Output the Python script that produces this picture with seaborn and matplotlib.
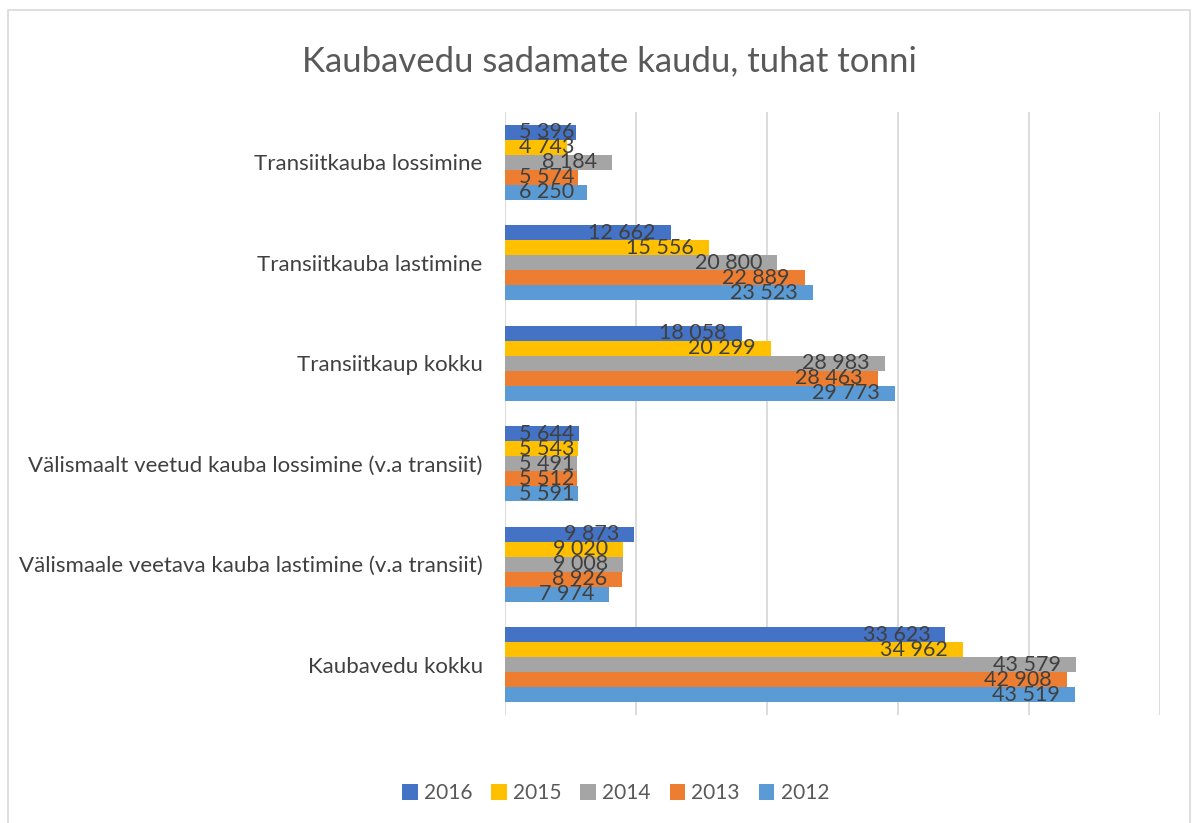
import pandas as pd
import matplotlib.pyplot as plt
import seaborn as sns
from matplotlib.patches import Rectangle

# andmed
categories = [
    "Transiitkauba lossimine",
    "Transiitkauba lastimine",
    "Transiitkaup kokku",
    "Välismaalt veetud kauba lossimine (v.a transiit)",
    "Välismaale veetava kauba lastimine (v.a transiit)",
    "Kaubavedu kokku",
]
years = ["2016", "2015", "2014", "2013", "2012"]
v2016 = [5396, 12662, 18058, 5644, 9873, 33623]
v2015 = [4743, 15556, 20299, 5543, 9020, 34962]
v2014 = [8184, 20800, 28983, 5491, 9008, 43579]
v2013 = [5574, 22889, 28463, 5512, 8926, 42908]
v2012 = [6250, 23523, 29773, 5591, 7974, 43519]
colors = ["#4472C4", "#FFC000", "#A5A5A5", "#ED7D31", "#5B9BD5"]

rows = []
for year, vals in zip(years, [v2016, v2015, v2014, v2013, v2012]):
    for cat, v in zip(categories, vals):
        rows.append({"Kategooria": cat, "Aasta": year, "Väärtus": v})
df = pd.DataFrame(rows)

sns.set_style("white")
plt.rcParams["font.family"] = ["Lato", "DejaVu Sans"]

fig = plt.figure(figsize=(12, 8.23), dpi=100)
ax = fig.add_axes([0.4208, 0.1312, 0.5458, 0.7327])

sns.barplot(data=df, y="Kategooria", x="Väärtus", hue="Aasta", order=categories,
            hue_order=years, palette=colors, orient="h", width=0.75,
            saturation=1, linewidth=0, ax=ax, legend=True)

ax.set_xlim(0, 50000)
ax.set_xticks(range(0, 50001, 10000))
ax.xaxis.grid(True, color="#D9D9D9", linewidth=1.3)
ax.set_axisbelow(True)
ax.tick_params(axis="x", length=0, labelbottom=False)
ax.tick_params(axis="y", length=0, labelsize=16, labelcolor="#404040", pad=16)
for s in ax.spines.values():
    s.set_visible(False)
ax.set_xlabel("")
ax.set_ylabel("")

# väärtuste sildid: sees lõpus, aga mitte teljest vasakule
texts = []
for cont in ax.containers:
    for bar in cont:
        w = bar.get_width()
        y = bar.get_y() + bar.get_height() / 2
        lab = f"{int(w):,}".replace(",", " ")
        t = ax.text(w - 1150, y, lab, ha="right", va="center", fontsize=15.5, color="#404040")
        texts.append(t)

fig.canvas.draw()
rend = fig.canvas.get_renderer()
x0 = ax.transData.transform((0, 0))[0]
for t in texts:
    bb = t.get_window_extent(rend)
    if bb.x0 < x0 + 14:
        t.set_ha("left")
        t.set_x(1100)

handles, labels = ax.get_legend_handles_labels()
ax.legend_.remove()
fig.legend(handles, labels, loc="center", bbox_to_anchor=(0.513, 0.036), ncol=5,
           frameon=False, fontsize=15, handlelength=0.75, handleheight=0.75,
           columnspacing=0.9, handletextpad=0.3, labelcolor="#595959")

fig.suptitle("Kaubavedu sadamate kaudu, tuhat tonni", x=0.508, y=0.945,
             fontsize=25, color="#595959")

fig.patches.append(Rectangle((0.007, -0.01), 0.985, 0.998, transform=fig.transFigure,
                             fill=False, edgecolor="#D9D9D9", linewidth=1.2))

plt.savefig("out.png", dpi=100)
plt.close()
